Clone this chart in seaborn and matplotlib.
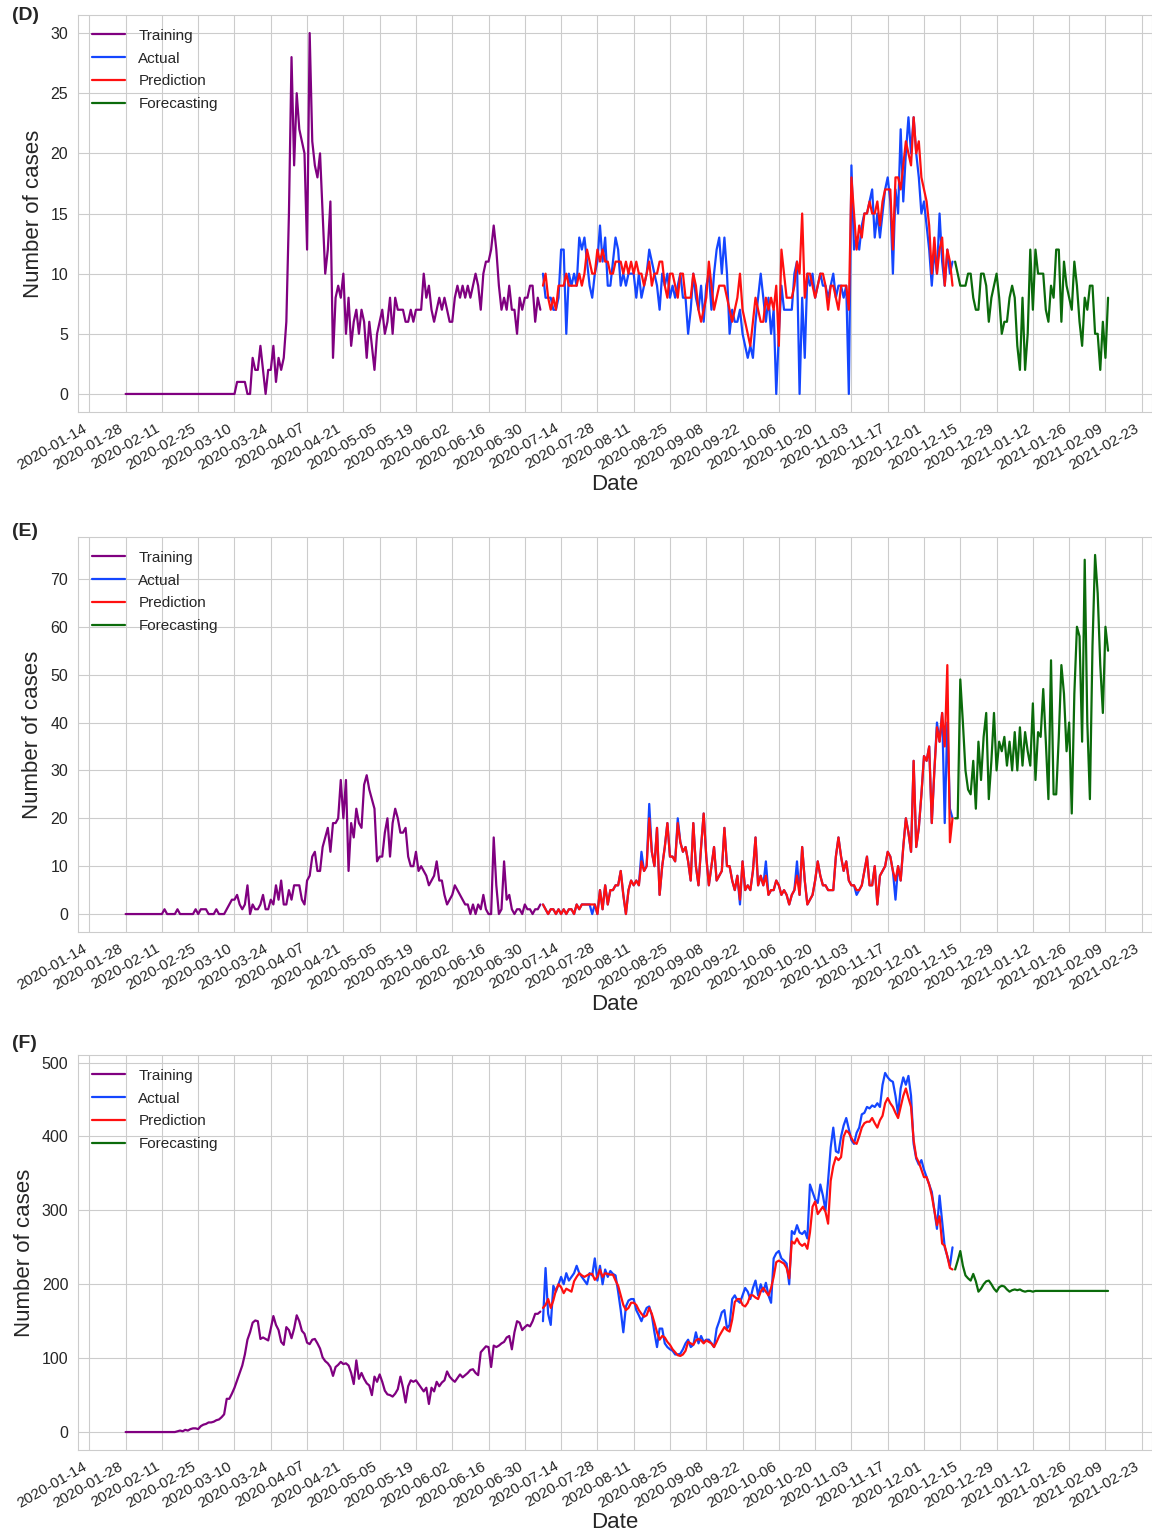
import pandas as pd
import matplotlib
matplotlib.use('Agg')
import matplotlib.pyplot as plt
import seaborn as sns

# daily series, first day of training
start = pd.Timestamp('2020-01-28')

# ---- panel (D) ----
d_train = [0, 0, 0, 0, 0, 0, 0, 0, 0, 0, 0, 0, 0, 0, 0, 0, 0, 0, 0, 0, 0, 0,
           0, 0, 0, 0, 0, 0, 0, 0, 0, 0, 0, 0, 0, 0, 0, 0, 0, 0, 0, 0, 0,
           1, 1, 1, 1, 0, 0, 3, 2, 2, 4, 2, 0, 2, 2, 4, 1, 3,
           2, 3, 6, 15, 28, 19, 25, 22, 21, 20, 12, 30, 21, 19, 18, 20, 15, 10, 12, 16,
           3, 8, 9, 8, 10, 5, 8, 4, 6, 7, 5, 7, 6, 3, 6, 4, 2, 5, 6, 7, 5, 6, 8, 5, 8, 7,
           7, 7, 6, 6, 7, 6, 7, 7, 7, 10, 8, 9, 7, 6, 7, 8, 7, 8, 7, 6,
           6, 8, 9, 8, 9, 8, 9, 8, 9, 10, 9, 7, 10, 11, 11, 12, 14, 12, 9, 7,
           8, 7, 9, 7, 7, 5, 8, 7, 8, 8, 9, 9, 6, 8, 7]
d_actual = [10, 8, 8, 8, 7, 7, 8, 12, 12, 5, 10, 9, 10, 9, 13, 12, 13, 11, 9, 8,
            10, 11, 14, 11, 13, 9, 9, 11, 13, 12, 9, 10, 9, 10, 10, 10, 8, 10, 8, 9,
            10, 12, 11, 10, 9, 7, 10, 9, 10, 8, 9, 8, 9, 10, 8, 8, 5, 7, 10, 8,
            7, 9, 6, 9, 10, 7, 10, 12, 13, 10, 13, 10, 5, 7, 6, 6, 7, 5, 4, 3,
            4, 3, 6, 8, 10, 8, 6, 8, 5, 7, 0, 5, 9, 7, 7, 7, 7, 10, 11, 0,
            8, 3, 10, 9, 10, 8, 9, 10, 9, 9, 8, 9, 10, 8, 9, 9, 8, 9, 0, 19,
            12, 13, 12, 14, 15, 15, 16, 17, 13, 15, 13, 15, 17, 18, 16, 10, 17, 15, 22, 16,
            20, 23, 20, 23, 20, 18, 15, 16, 14, 12, 9, 12, 10, 15, 11, 9, 12, 10, 11]
d_pred = [9, 10, 8, 7, 8, 7, 9, 9, 9, 10, 9, 9, 9, 9, 10, 9, 10, 12, 11, 10,
          10, 12, 11, 12, 11, 11, 10, 10, 11, 11, 11, 10, 11, 10, 11, 10, 11, 10, 10, 9,
          10, 11, 9, 10, 10, 11, 11, 9, 8, 10, 10, 9, 8, 10, 10, 8, 8, 8, 10, 9,
          7, 6, 7, 8, 11, 9, 7, 8, 9, 9, 9, 8, 7, 6, 7, 8, 10, 7, 6, 5,
          4, 6, 8, 7, 6, 6, 8, 7, 8, 7, 9, 4, 12, 10, 8, 8, 8, 9, 11, 10,
          15, 8, 10, 10, 9, 8, 9, 10, 10, 9, 7, 9, 9, 8, 7, 9, 9, 9, 7, 18,
          15, 12, 14, 13, 15, 15, 16, 15, 15, 16, 14, 16, 17, 17, 17, 12, 18, 18, 17, 19,
          21, 20, 19, 23, 20, 21, 18, 17, 16, 14, 10, 13, 10, 12, 13, 9, 12, 11, 9]
d_fc = [11, 10, 9, 9, 9, 10, 10, 8, 7, 7, 10, 10, 9, 6, 8, 9, 10, 8, 5, 6,
        6, 8, 9, 8, 4, 2, 8, 2, 5, 12, 7, 12, 10, 10, 10, 7, 6, 9, 8, 12,
        12, 6, 11, 9, 8, 7, 11, 9, 6, 4, 8, 7, 9, 9, 5, 5, 2, 6, 3, 8]

# ---- panel (E) ----
e_train = [0, 0, 0, 0, 0, 0, 0, 0, 0, 0, 0, 0, 0, 0, 0,
           1, 0, 0, 0, 0, 1, 0, 0, 0, 0, 0, 0, 1, 0, 1, 1, 1, 0, 0, 0, 1, 0, 0, 0, 1,
           2, 3, 3, 4, 2, 1, 2, 6, 0, 2, 1, 1, 2, 4, 1, 1, 3, 2, 6, 3,
           7, 2, 2, 5, 3, 6, 6, 6, 3, 2, 7, 8, 12, 13, 9, 9, 14, 16, 18, 13,
           19, 19, 20, 28, 20, 28, 9, 19, 16, 22, 19, 18, 27, 29, 26, 24, 22, 11, 12, 12,
           17, 20, 12, 19, 22, 20,
           17, 17, 18, 12, 10, 10, 13, 9, 10, 9, 8, 6, 7, 8, 11, 7, 7, 4, 2, 3,
           4, 6, 5, 4, 3, 2, 2, 0, 2, 0, 2, 1, 4, 1, 0, 0, 16, 6, 0, 1,
           11, 3, 4, 1, 0, 1, 1, 0, 2, 1, 1, 0, 1, 1, 2]
e_actual = [2, 1, 0, 1, 1, 0, 1, 0, 1, 0, 1, 1, 0, 2, 1, 2, 2, 2, 2, 0,
            2, 0, 5, 1, 6, 2, 5, 5, 6, 6, 9, 4, 0, 5, 7, 6, 7, 6, 13, 9,
            10, 23, 13, 10, 18, 4, 10, 14, 19, 12, 12, 11, 20, 15, 13, 14, 11, 7, 19, 10,
            6, 14, 21, 12, 6, 10, 14, 7, 8, 9, 18, 10, 10, 7, 5, 8, 2, 11, 5, 6,
            5, 9, 16, 6, 8, 6, 11, 4, 5, 5, 7, 6, 4, 5, 4, 2, 4, 5, 11, 4,
            14, 7, 2, 3, 4, 7, 11, 8, 6, 6, 5, 5, 5, 12, 16, 12, 9, 11, 7, 6,
            6, 4, 5, 6, 9, 12, 6, 6, 10, 2, 8, 9, 10, 13, 12, 9, 3, 10, 7, 14,
            20, 17, 13, 32, 14, 18, 25, 33, 32, 35, 19, 30, 40, 36, 42, 19, 40, 22, 20]
e_pred = [2, 1, 0, 1, 1, 0, 1, 0, 1, 0, 1, 1, 0, 2, 1, 2, 2, 2, 2, 2,
          2, 0, 5, 1, 6, 2, 5, 5, 6, 6, 9, 4, 0, 5, 7, 6, 7, 6, 11, 9,
          10, 20, 13, 10, 18, 4, 10, 14, 19, 12, 12, 11, 19, 15, 13, 14, 11, 7, 19, 10,
          6, 14, 21, 12, 6, 10, 14, 7, 8, 9, 18, 10, 10, 7, 5, 8, 3, 11, 5, 6,
          5, 9, 16, 6, 8, 6, 8, 4, 5, 5, 7, 6, 4, 5, 4, 2, 4, 5, 8, 4,
          14, 7, 2, 3, 4, 7, 11, 8, 6, 6, 5, 5, 5, 12, 16, 12, 9, 11, 7, 6,
          6, 5, 5, 6, 9, 12, 6, 6, 10, 2, 8, 9, 10, 13, 12, 9, 7, 10, 7, 14,
          20, 17, 13, 32, 14, 18, 25, 33, 32, 35, 19, 30, 39, 36, 42, 35, 52, 15, 20]
e_fc = [20, 20, 49, 40, 30, 26, 25, 32, 22, 36, 28, 37, 42, 24, 32, 42, 30, 36, 34, 37,
        31, 36, 30, 38, 30, 39, 31, 38, 34, 31, 44, 28, 38, 37, 47, 36, 24, 53, 25, 25,
        37, 52, 46, 34, 40, 21, 46, 60, 58, 36, 74, 40, 24, 56, 75, 67, 52, 42, 60, 55]

# ---- panel (F) ----
f_train = [0, 0, 0, 0, 0, 0, 0, 0, 0, 0, 0, 0, 0, 0, 0, 0, 0, 0, 0, 0,
           1, 2, 1, 3, 2, 4, 5, 5, 4, 8, 10, 11, 13, 13, 14, 16, 17, 20, 24, 45,
           45, 52, 60, 70, 80, 90, 105, 125, 135, 148, 151, 150, 126, 128, 126, 124, 140, 157, 145, 138,
           122, 118, 142, 138, 127, 140, 158, 150, 137, 133, 121, 119, 125, 126, 120, 113, 101, 96, 93, 88,
           76, 88, 91, 95, 92, 93, 90, 80, 65, 97, 72, 80, 72, 66, 63, 50, 75, 68, 78, 68,
           56, 51, 50, 48, 52, 58,
           75, 60, 40, 62, 70, 68, 70, 65, 60, 55, 60, 38, 60, 55, 68, 62, 67, 70, 82, 75,
           71, 68, 73, 78, 74, 77, 80, 84, 85, 80, 77, 108, 112, 116, 115, 88, 117, 115, 117, 120,
           122, 128, 130, 112, 135, 150, 148, 138, 142, 145, 143, 150, 160, 160, 163]
f_actual = [150, 222, 160, 145, 198, 190, 200, 210, 200, 215, 205, 210, 215, 225, 215, 210, 205, 200, 215, 212,
            235, 205, 225, 200, 220, 210, 218, 214, 212, 190, 165, 135, 170, 178, 180, 180, 165, 158, 150, 160,
            168, 170, 158, 135, 115, 140, 140, 120, 115, 112, 110, 105, 105, 106, 112, 120, 125, 115, 118, 135,
            120, 130, 122, 125, 125, 120, 115, 140, 150, 162, 165, 140, 145, 180, 185, 178, 175, 185, 195, 190,
            180, 195, 205, 185, 200, 190, 202, 185, 175, 235, 242, 245, 235, 232, 228, 200, 272, 268, 280, 270,
            268, 272, 262, 335, 325, 315, 310, 335, 320, 300, 340, 385, 412, 380, 378, 400, 415, 425, 410, 395,
            390, 405, 412, 430, 432, 440, 438, 442, 440, 445, 440, 470, 486, 480, 476, 474, 455, 430, 465, 480,
            470, 482, 455, 390, 370, 362, 368, 355, 345, 335, 325, 300, 275, 320, 285, 250, 238, 225, 250]
f_pred = [168, 172, 180, 168, 178, 192, 200, 196, 188, 194, 192, 190, 204, 210, 215, 212, 210, 212, 214, 214,
          206, 210, 220, 210, 215, 214, 213, 213, 205, 198, 185, 172, 165, 168, 175, 175, 172, 165, 160, 156,
          158, 168, 160, 148, 135, 125, 130, 128, 122, 118, 112, 108, 104, 103, 105, 110, 122, 120, 118, 124,
          126, 124, 120, 124, 122, 120, 115, 122, 130, 136, 142, 138, 136, 152, 176, 180, 180, 172, 170, 175,
          185, 185, 182, 180, 190, 195, 190, 185, 195, 210, 230, 232, 230, 228, 222, 208, 258, 255, 262, 255,
          252, 255, 248, 270, 305, 312, 295, 300, 305, 298, 282, 340, 360, 372, 368, 372, 400, 408, 405, 398,
          392, 390, 400, 412, 418, 420, 420, 425, 418, 412, 422, 428, 445, 452, 445, 440, 432, 425, 440, 455,
          465, 452, 440, 395, 372, 365, 355, 345, 345, 335, 320, 300, 280, 292, 255, 252, 238, 222, 220]
f_fc = [220, 232, 245, 225, 212, 208, 205, 214, 204, 190, 194, 200, 204, 205, 200, 194, 190, 196, 198, 197,
        193, 190, 192, 193, 192, 193, 191, 190, 191, 191, 190, 191, 191, 191, 191, 191, 191, 191, 191, 191,
        191, 191, 191, 191, 191, 191, 191, 191, 191, 191, 191, 191, 191, 191, 191, 191, 191, 191, 191, 191]

panels = [
    ('(D)', d_train, d_actual, d_pred, d_fc, [0, 5, 10, 15, 20, 25, 30], (-1.5, 31.5)),
    ('(E)', e_train, e_actual, e_pred, e_fc, [0, 10, 20, 30, 40, 50, 60, 70], (-3.75, 78.75)),
    ('(F)', f_train, f_actual, f_pred, f_fc, [0, 100, 200, 300, 400, 500], (-24.3, 510.3)),
]

series_order = ['Training', 'Actual', 'Prediction', 'Forecasting']
colors = {'Training': '#800080', 'Actual': '#1446ff', 'Prediction': '#ff1010',
          'Forecasting': '#0b6b0b'}

sns.set_style('whitegrid')
plt.rcParams['font.family'] = ['Liberation Sans', 'DejaVu Sans']

fig = plt.figure(figsize=(11.52, 15.36), dpi=100)

# axes boxes in pixels (top, bottom) and panel tag y positions
W, H = 1152, 1536
boxes = [(15, 412, 16), (537, 932, 531), (1055, 1450, 1043)]
x_left, x_right = 78, 1152

ticks = pd.date_range('2020-01-14', '2021-02-23', freq='14D')


def build_frame(train, actual, pred, fc):
    n0 = len(train)
    t0 = start + pd.Timedelta(days=n0)
    t1 = t0 + pd.Timedelta(days=len(actual))
    parts = [
        ('Training', pd.date_range(start, periods=n0, freq='D'), train),
        ('Actual', pd.date_range(t0, periods=len(actual), freq='D'), actual),
        ('Prediction', pd.date_range(t0, periods=len(pred), freq='D'), pred),
        ('Forecasting', pd.date_range(t1, periods=len(fc), freq='D'), fc),
    ]
    frames = [pd.DataFrame({'Date': d, 'cases': v, 'series': name}) for name, d, v in parts]
    return pd.concat(frames, ignore_index=True)


for (tag, tr, ac, pr, fc, yt, ylim), (top, bot, ly) in zip(panels, boxes):
    ax = fig.add_axes([x_left / W, 1 - bot / H, (x_right - x_left) / W, (bot - top) / H])
    df = build_frame(tr, ac, pr, fc)
    sns.lineplot(data=df, x='Date', y='cases', hue='series', hue_order=series_order,
                 palette=colors, estimator=None, errorbar=None, linewidth=1.6, ax=ax)

    ax.set_xlim(pd.Timestamp('2020-01-09 15:00'), pd.Timestamp('2021-02-26 23:00'))
    ax.set_ylim(*ylim)
    ax.set_yticks(yt)
    ax.set_xticks(ticks)
    ax.set_xticklabels([t.strftime('%Y-%m-%d') for t in ticks], rotation=30, ha='right')
    ax.tick_params(axis='y', labelsize=11.5, colors='#262626')
    ax.tick_params(axis='x', labelsize=11, colors='#262626', pad=3)
    ax.set_xlabel('Date', fontsize=16, labelpad=1)
    ax.set_ylabel('Number of cases', fontsize=16, labelpad=5)

    handles, labels = ax.get_legend_handles_labels()
    ax.legend(handles, labels, loc='upper left', frameon=False, fontsize=11,
              handlelength=2.2, handletextpad=0.85, labelspacing=0.58)

    fig.text(12 / W, 1 - ly / H, tag, fontsize=14, fontweight='bold',
             ha='left', va='center')

fig.savefig('out.png', dpi=100)
